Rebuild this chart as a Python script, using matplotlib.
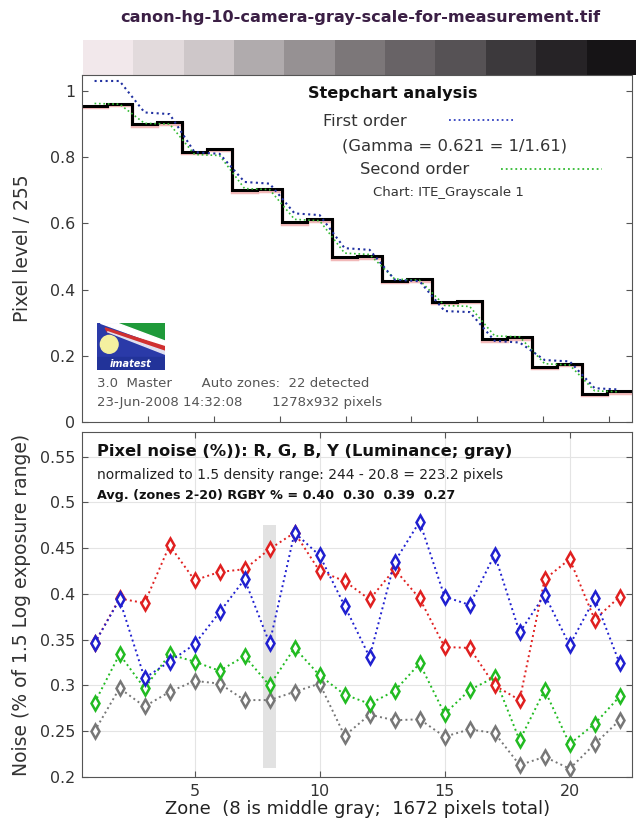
import numpy as np
import matplotlib.pyplot as plt
from matplotlib.patches import Rectangle, Polygon, Ellipse

plt.rcParams['font.family'] = ['DejaVu Sans']

# gray patches of the test chart (RGB 0-255)
patch_rgb = [(242, 232, 235), (226, 218, 220), (206, 199, 201), (176, 171, 173),
             (150, 145, 147), (124, 119, 121), (104, 99, 102), (86, 82, 85),
             (60, 57, 60), (38, 35, 38), (22, 20, 22)]

zones = np.arange(1, 23)

# stepchart: pixel level / 255 for each zone
level_mean = [0.955, 0.962, 0.900, 0.905, 0.815, 0.825, 0.700, 0.703, 0.603, 0.612, 0.497,
              0.500, 0.427, 0.431, 0.362, 0.365, 0.250, 0.256, 0.166, 0.175, 0.085, 0.093]
level_red = [0.950, 0.958, 0.895, 0.901, 0.811, 0.821, 0.696, 0.699, 0.599, 0.608, 0.493,
             0.496, 0.423, 0.427, 0.358, 0.361, 0.246, 0.252, 0.162, 0.171, 0.081, 0.089]
fit_first = [1.030, 1.030, 0.935, 0.930, 0.815, 0.810, 0.725, 0.720, 0.630, 0.625, 0.525,
             0.520, 0.430, 0.425, 0.335, 0.332, 0.245, 0.240, 0.187, 0.183, 0.102, 0.098]
fit_second = [0.962, 0.960, 0.902, 0.900, 0.808, 0.805, 0.705, 0.702, 0.612, 0.608, 0.510,
              0.506, 0.432, 0.428, 0.352, 0.349, 0.260, 0.257, 0.176, 0.172, 0.094, 0.091]

# pixel noise (%) per zone
noise_r = [0.346, 0.395, 0.390, 0.453, 0.415, 0.424, 0.427, 0.449, 0.467, 0.425, 0.414,
           0.394, 0.427, 0.395, 0.342, 0.341, 0.300, 0.284, 0.416, 0.438, 0.372, 0.397]
noise_g = [0.281, 0.334, 0.297, 0.334, 0.326, 0.316, 0.332, 0.300, 0.341, 0.311, 0.290,
           0.280, 0.294, 0.324, 0.269, 0.295, 0.309, 0.240, 0.295, 0.236, 0.258, 0.288]
noise_b = [0.346, 0.394, 0.308, 0.326, 0.345, 0.380, 0.416, 0.346, 0.467, 0.442, 0.387,
           0.331, 0.435, 0.479, 0.397, 0.388, 0.443, 0.358, 0.399, 0.344, 0.395, 0.324]
noise_y = [0.250, 0.297, 0.277, 0.293, 0.305, 0.302, 0.284, 0.284, 0.293, 0.302, 0.245,
           0.268, 0.262, 0.263, 0.244, 0.252, 0.248, 0.213, 0.222, 0.209, 0.236, 0.262]
middle_zone = 8
band_range = (0.21, 0.475)

fig = plt.figure(figsize=(6.36, 8.3), dpi=100)
txt = '#333333'

fig.text(0.566, 0.979, 'canon-hg-10-camera-gray-scale-for-measurement.tif',
         ha='center', va='center', fontsize=11.6, fontweight='bold', color='#3b1f45')

# gray strip
ax_s = fig.add_axes([0.1305, 0.9096, 0.8695, 0.042])
ax_s.imshow(np.array([patch_rgb], dtype=np.uint8), aspect='auto',
            extent=(0, len(patch_rgb), 0, 1))
ax_s.axis('off')

# ---- stepchart ----
ax1 = fig.add_axes([0.129, 0.4916, 0.865, 0.418])
edges = np.arange(0.5, 23)
ax1.stairs(level_red, edges, baseline=None, color='#e05050', lw=2.5, alpha=0.4)
ax1.plot(zones, fit_second, ':', color='#33bb33', lw=1.2)
ax1.stairs(level_mean, edges, baseline=None, color='black', lw=2.2)
ax1.plot(zones, fit_first, ':', color='#2030a0', lw=1.5)
ax1.set_xlim(0.5, 22.5)
ax1.set_ylim(0, 1.048)
ax1.set_yticks([0, 0.2, 0.4, 0.6, 0.8, 1])
ax1.set_yticklabels(['0', '0.2', '0.4', '0.6', '0.8', '1'])
ax1.set_xticks(np.arange(1, 9) * 66 / 25.05 + 0.5)
ax1.set_xticklabels([])
ax1.tick_params(direction='in', length=4, labelsize=11.4, colors='#555555', labelcolor=txt,
                right=True, top=False, pad=5)
ax1.set_ylabel('Pixel level / 255', fontsize=13.5, color=txt, labelpad=13)
for sp in ax1.spines.values():
    sp.set_color('#555555')

ax1.text(0.411, 0.947, 'Stepchart analysis', transform=ax1.transAxes,
         fontsize=11.6, fontweight='bold', color='#111111', ha='left', va='center')
ax1.text(0.438, 0.867, 'First order', transform=ax1.transAxes,
         fontsize=11.8, color=txt, ha='left', va='center')
ax1.plot([0.667, 0.785], [0.87, 0.87], ':', color='#3040c0', lw=1.3, transform=ax1.transAxes)
ax1.text(0.473, 0.795, '(Gamma = 0.621 = 1/1.61)', transform=ax1.transAxes,
         fontsize=11.8, color=txt, ha='left', va='center')
ax1.text(0.505, 0.728, 'Second order', transform=ax1.transAxes,
         fontsize=11.8, color=txt, ha='left', va='center')
ax1.plot([0.762, 0.945], [0.73, 0.73], ':', color='#33bb33', lw=1.3, transform=ax1.transAxes)
ax1.text(0.529, 0.66, 'Chart: ITE_Grayscale 1', transform=ax1.transAxes,
         fontsize=9.5, color=txt, ha='left', va='center')
ax1.text(0.027, 0.112, '3.0  Master       Auto zones:  22 detected', transform=ax1.transAxes,
         fontsize=9.5, color='#555555', ha='left', va='center')
ax1.text(0.027, 0.055, '23-Jun-2008 14:32:08       1278x932 pixels', transform=ax1.transAxes,
         fontsize=9.5, color='#555555', ha='left', va='center')

# logo
ax_l = fig.add_axes([0.1525, 0.554, 0.107, 0.0566])
ax_l.set_xlim(0, 1)
ax_l.set_ylim(0, 1)
ax_l.add_patch(Rectangle((0, 0), 1, 1, color='#2a3aa8'))
ax_l.add_patch(Polygon([(0.3, 1), (1, 1), (1, 0.62)], color='#1f9a3a'))
ax_l.add_patch(Polygon([(0.05, 1), (0.3, 1), (1, 0.62), (1, 0.5)], color='white'))
ax_l.add_patch(Polygon([(0.12, 0.9), (1, 0.5), (1, 0.4), (0.15, 0.82)], color='#d03030'))
ax_l.add_patch(Polygon([(0.15, 0.82), (1, 0.4), (1, 0.34)], color='#e0e0f0'))
ax_l.add_patch(Ellipse((0.18, 0.55), 0.26, 0.38, color='#f4f0a0'))
ax_l.add_patch(Rectangle((0, 0), 1, 0.28, color='#223399'))
ax_l.text(0.5, 0.14, 'imatest', color='white', fontsize=7, fontweight='bold',
          fontstyle='italic', ha='center', va='center')
ax_l.axis('off')

# ---- noise plot ----
ax2 = fig.add_axes([0.129, 0.0639, 0.865, 0.4157])
ax2.grid(True, color='#e4e4e4', lw=0.8)
ax2.set_axisbelow(True)
ax2.bar(middle_zone, band_range[1] - band_range[0], bottom=band_range[0], width=0.5,
        color='#e2e2e2', zorder=1)
mk = dict(marker='d', ms=7, mew=1.8, mfc='white', lw=1.4, ls=':', zorder=3)
ax2.plot(zones, noise_y, color='#777777', **mk)
ax2.plot(zones, noise_g, color='#22bb22', **mk)
ax2.plot(zones, noise_r, color='#e02020', **mk)
ax2.plot(zones, noise_b, color='#2020d0', **mk)
ax2.set_xlim(0.5, 22.5)
ax2.set_ylim(0.2, 0.577)
ax2.set_xticks([5, 10, 15, 20])
ax2.set_yticks(np.arange(0.2, 0.56, 0.05))
ax2.set_yticklabels(['0.2', '0.25', '0.3', '0.35', '0.4', '0.45', '0.5', '0.55'])
ax2.tick_params(direction='in', length=4, labelsize=11.4, colors='#555555', labelcolor=txt,
                top=True, right=True, pad=5)
for sp in ax2.spines.values():
    sp.set_color('#555555')
ax2.set_xlabel('Zone  (8 is middle gray;  1672 pixels total)', fontsize=13,
               color='#222222', labelpad=1)
ax2.set_ylabel('Noise (% of 1.5 Log exposure range)', fontsize=13.5, color=txt, labelpad=6)

ax2.text(0.027, 0.942, 'Pixel noise (%)): R, G, B, Y (Luminance; gray)', transform=ax2.transAxes,
         fontsize=11.7, fontweight='bold', color='#111111', ha='left', va='center')
ax2.text(0.027, 0.875, 'normalized to 1.5 density range: 244 - 20.8 = 223.2 pixels',
         transform=ax2.transAxes, fontsize=10, color='#222222', ha='left', va='center')
ax2.text(0.027, 0.815, 'Avg. (zones 2-20) RGBY % = 0.40  0.30  0.39  0.27',
         transform=ax2.transAxes, fontsize=9.2, fontweight='bold', color='#111111',
         ha='left', va='center')

fig.savefig('out.png', dpi=100)
